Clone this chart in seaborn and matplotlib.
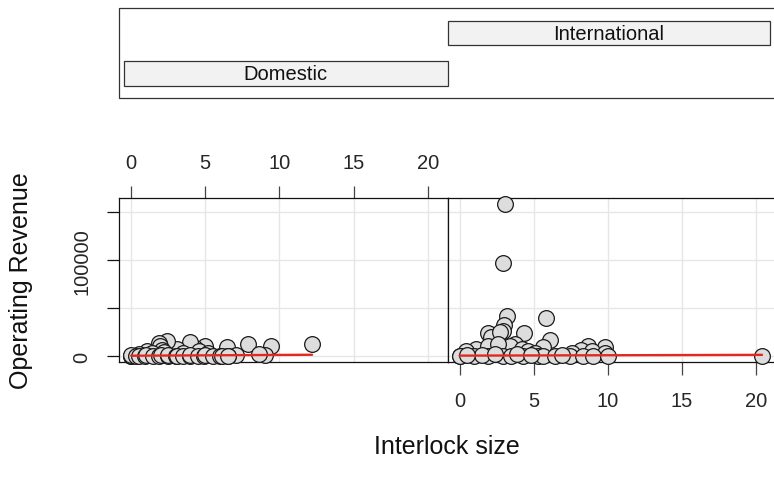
import matplotlib
matplotlib.use("Agg")
import matplotlib.pyplot as plt
from matplotlib.patches import Rectangle
import seaborn as sns
import pandas as pd

sns.set_style("white")
plt.rcParams['font.family'] = ['Liberation Sans', 'DejaVu Sans']

# ---------------- data ----------------
panels = ["Domestic", "International"]

dom_x = [12.2, 9.4, 7.85, 6.45, 5.0, 4.3, 4.0, 3.1, 2.4, 1.85, 1.95, 2.05, 1.05, 0.5,
         9.05, 8.6, 7.1, 6.55, 2.2, 3.5, 4.6, 5.2, 1.4,
         0.0, 0.0, 0.0, 0.3, 0.5, 0.9, 1.0, 1.5, 1.9, 2.0, 2.5, 2.5, 3.0, 3.1, 3.5,
         4.0, 4.0, 4.5, 4.9, 5.0, 5.5, 6.0, 6.1, 6.5]
dom_y = [12800, 11000, 12800, 9400, 11000, 8300, 14600, 7600, 16300, 13800, 11000, 6300, 5900, 2300,
         1350, 2400, 1350, 600, 4000, 3000, 5000, 3000, 3500,
         200, 600, 900, 500, 700, 300, 1100, 600, 400, 900, 500, 1200, 700, 300, 800,
         600, 1000, 400, 700, 1500, 500, 800, 300, 600]

int_x = [3.09, 2.93, 3.2, 5.86, 3.0, 2.93, 4.32, 1.91, 2.14, 2.7, 6.08, 8.67, 9.84, 5.63,
         3.72, 3.4, 4.2, 4.6, 1.13, 0.46, 1.9, 2.6, 8.2, 8.9, 7.6, 9.8, 5.1, 20.4,
         0.0, 0.0, 0.97, 1.91, 2.93, 3.49, 4.28, 5.29, 5.63, 6.42, 7.43, 8.33, 9.0, 10.0,
         1.5, 2.4, 3.9, 6.9, 0.5, 4.8]
int_y = [158300, 96900, 41600, 39900, 32600, 26700, 23900, 23900, 19800, 25000, 17300, 11000, 10000, 9400,
         12800, 11000, 8000, 5900, 7600, 6000, 11000, 12500, 7000, 5500, 3600, 3000, 3600, 300,
         600, 300, 600, 500, 700, 400, 800, 500, 300, 600, 500, 400, 700, 600,
         1500, 2000, 2500, 1200, 1000, 1800]

# fitted regression lines
dom_fit_x = [0.0, 12.2]
dom_fit_y = [600, 1600]
int_fit_x = [0.0, 20.4]
int_fit_y = [700, 1500]

x_ticks = [0, 5, 10, 15, 20]
y_ticks = [0, 50000, 100000, 150000]
y_ticklabels = ["0", "", "100000", ""]

df = pd.DataFrame({
    "size": dom_x + int_x,
    "revenue": dom_y + int_y,
    "type": ["Domestic"] * len(dom_x) + ["International"] * len(int_x),
})
fits = {"Domestic": (dom_fit_x, dom_fit_y), "International": (int_fit_x, int_fit_y)}

# ---------------- figure ----------------
W, H = 774, 489
fig = plt.figure(figsize=(W / 100, H / 100), dpi=100)

def px_rect(x0, y0, x1, y1):
    return [x0 / W, 1 - y1 / H, (x1 - x0) / W, (y1 - y0) / H]

panel_top, panel_bot = 199.3, 363.3
panel_w = 328.4
lefts = [119.3, 447.7]
xlim = (-0.80, 21.35)
ylim = (-6250, 164580)

FS_TICK = 14.5
FS_LAB = 18
grid_col = "#E6E6E6"
red = "#E3291F"

for i, name in enumerate(panels):
    ax = fig.add_axes(px_rect(lefts[i], panel_top, lefts[i] + panel_w, panel_bot))
    sub = df[df["type"] == name]
    ax.set_xlim(*xlim)
    ax.set_ylim(*ylim)
    for xv in x_ticks:
        ax.axvline(xv, color=grid_col, lw=1.0, zorder=0)
    for yv in y_ticks:
        ax.axhline(yv, color=grid_col, lw=1.0, zorder=0)
    sns.scatterplot(data=sub, x="size", y="revenue", ax=ax, s=128,
                    color="#DDDDDD", edgecolor="#1a1a1a", linewidth=0.9,
                    zorder=3, legend=False, clip_on=False)
    fx, fy = fits[name]
    sns.lineplot(x=fx, y=fy, ax=ax, color=red, lw=1.7, zorder=4)
    ax.set_xlabel("")
    ax.set_ylabel("")
    for sp in ax.spines.values():
        sp.set_color("#111111")
        sp.set_linewidth(0.9)
    ax.set_xticks(x_ticks)
    ax.set_xticklabels([str(v) for v in x_ticks])
    if i == 0:
        ax.xaxis.set_ticks_position("top")
        ax.xaxis.set_label_position("top")
        ax.tick_params(axis="x", length=9, width=0.9, color="#444444",
                       labelsize=FS_TICK, pad=10, direction="out")
        ax.set_yticks(y_ticks)
        ax.set_yticklabels(y_ticklabels, rotation=90, va="center")
        ax.tick_params(axis="y", length=9, width=0.9, color="#111111",
                       labelsize=FS_TICK, pad=11, direction="out")
        ax.yaxis.set_ticks_position("left")
    else:
        ax.xaxis.set_ticks_position("bottom")
        ax.tick_params(axis="x", length=9, width=0.9, color="#444444",
                       labelsize=FS_TICK, pad=12, direction="out")
        ax.set_yticks([])
        ax.spines["right"].set_visible(False)

# ---------------- strips ----------------
sax = fig.add_axes(px_rect(0, 0, W, H))
sax.set_xlim(0, W)
sax.set_ylim(H, 0)
sax.axis("off")
sax.add_patch(Rectangle((119.3, 9.3), 780 - 119.3, 98.7 - 9.3, fill=False,
                        edgecolor="#333333", lw=0.9, clip_on=False))
strip_boxes = {"Domestic": (124, 62, 447.7, 87), "International": (447.7, 21.7, 770, 45.7)}
for name in panels:
    x0, y0, x1, y1 = strip_boxes[name]
    sax.add_patch(Rectangle((x0, y0), x1 - x0, y1 - y0, facecolor="#F2F2F2",
                            edgecolor="#333333", lw=0.9))
    sax.text((x0 + x1) / 2, (y0 + y1) / 2 + 0.5, name, ha="center", va="center",
             fontsize=FS_TICK, color="#111111")

# ---------------- axis labels ----------------
fig.text(21 / W, 1 - 281 / H, "Operating Revenue", rotation=90, ha="center",
         va="center", fontsize=FS_LAB, color="#111111")
fig.text(447 / W, 1 - 447 / H, "Interlock size", ha="center", va="center",
         fontsize=FS_LAB, color="#111111")

fig.savefig("out.png", dpi=100)
